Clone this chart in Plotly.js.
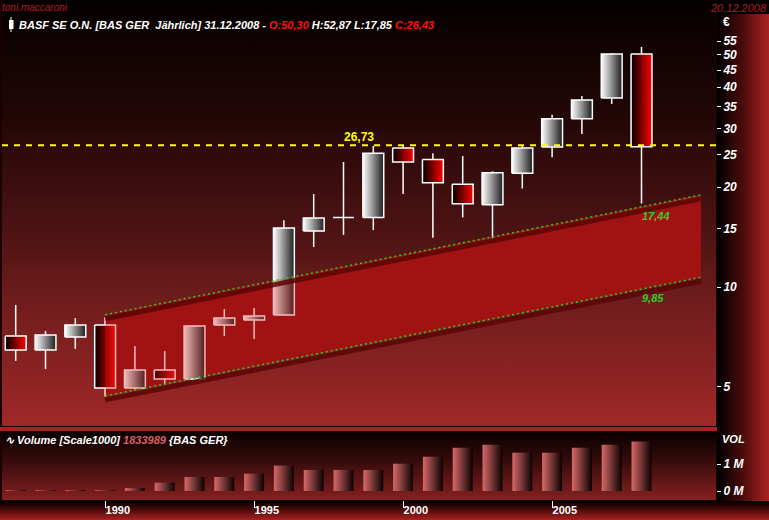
<!DOCTYPE html>
<html><head><meta charset="utf-8">
<script src="https://cdn.plot.ly/plotly-3.0.1.min.js"></script>
<style>
body{margin:0;background:#000;}
#wrap{position:relative;width:769px;height:520px;overflow:hidden;background:#a52323;}
.bg{position:absolute;box-sizing:border-box;}
#chart{position:absolute;left:0;top:0;width:769px;height:520px;}
</style></head><body>
<div id="wrap">
<div class="bg" style="left:0;top:0;width:717px;height:427px;border-left:2px solid #1a0000;border-right:1px solid #1a0000;border-bottom:1px solid #1a0000;background:linear-gradient(to bottom,#050000 0%,#0e0202 8%,#230707 28%,#501414 56%,#6e1c1c 70%,#a02828 100%)"></div>
<div class="bg" style="left:717px;top:0;width:52px;height:14px;background:#000"></div>
<div class="bg" style="left:717px;top:14px;width:52px;height:487px;background:linear-gradient(to right,#000 0%,#1e0404 20%,#4a0c0c 50%,#7e1717 75%,#a82222 100%)"></div>
<div class="bg" style="left:0;top:431px;width:717px;height:70px;border:1px solid #1a0000;border-left:2px solid #1a0000;background:linear-gradient(to bottom,#0a0000 0%,#3a0c0c 45%,#862020 100%)"></div>
<div class="bg" style="left:0;top:501px;width:769px;height:19px;background:linear-gradient(to bottom,#000 0%,#3a0606 35%,#a82222 100%)"></div>
<div id="chart"></div>
</div>
<script>
// ---- data ----
const years  = [1987,1988,1989,1990,1991,1992,1993,1994,1995,1996,1997,1998,1999,2000,2001,2002,2003,2004,2005,2006,2007,2008];
const openV  = [7.12,6.46,7.07,7.68,4.96,5.62,5.28,7.68,7.96,8.23,14.74,16.2,16.2,26.2,24.2,20.4,17.7,22.0,26.4,32.1,37.1,50.30];
const highV  = [8.83,7.37,8.06,8.12,6.64,6.41,7.66,8.58,8.64,15.9,19.05,23.8,26.6,26.6,25.3,24.8,22.3,26.6,33.0,37.6,50.6,52.87];
const lowV   = [5.99,5.66,6.51,4.68,4.90,5.10,5.25,7.12,6.97,8.20,13.2,14.35,14.85,19.05,14.07,16.2,14.0,19.8,24.6,28.9,35.6,17.85];
const closeV = [6.46,7.17,7.68,4.96,5.62,5.28,7.63,8.06,8.18,15.05,16.14,16.25,25.3,23.8,20.6,17.8,22.1,26.2,32.1,36.6,50.30,26.43];
const volumeM = [0.03,0.03,0.03,0.03,0.11,0.31,0.52,0.52,0.64,0.94,0.78,0.78,0.78,1.01,1.27,1.60,1.71,1.42,1.42,1.60,1.71,1.834];
const channelX = [1990, 2010];
const channelUpper = [8.25, 18.95];
const channelLower = [4.70, 10.70];
const channelUpperLabel = "17,44";
const channelLowerLabel = "9,85";
const labelYear = 2008;
const upperAtLabel = 17.44;
const lowerAtLabel = 9.85;
const hLine = 26.73;
const hLineLabel = "26,73";
const priceTicks = [5,10,15,20,25,30,35,40,45,50,55];
const volTicks = [0,1];
const volTickText = ["0 M","1 M"];
const yearTicks = [1990,1995,2000,2005];

// ---- layout helpers ----
const W=769,H=520,ML=2,MR=53,MT=32,MB=20;
const PW=W-ML-MR, PH=H-MT-MB;
const px=x=>(x-ML)/PW, py=y=>(H-MB-y)/PH;
const xRange=[1986.54,2010.5];
const bodyHalf=0.35, volHalf=0.335;

const traces=[];
const bandX=[channelX[0],channelX[1],channelX[1],channelX[0],channelX[0]];
const bandY=[channelUpper[0],channelUpper[1],channelLower[1],channelLower[0],channelUpper[0]];
// band base
traces.push({type:'scatter',mode:'none',x:bandX,y:bandY,fill:'toself',fillcolor:'rgb(138,16,16)',hoverinfo:'skip'});
// wicks
const wx=[],wy=[];
years.forEach((yr,i)=>{wx.push(yr,yr,null);wy.push(lowV[i],highV[i],null);});
traces.push({type:'scatter',mode:'lines',x:wx,y:wy,line:{color:'#ffffff',width:1.5},hoverinfo:'skip'});
// bodies
years.forEach((yr,i)=>{
  const up=closeV[i]>=openV[i];
  traces.push({type:'scatter',mode:'lines',
    x:[yr-bodyHalf,yr+bodyHalf,yr+bodyHalf,yr-bodyHalf,yr-bodyHalf],
    y:[openV[i],openV[i],closeV[i],closeV[i],openV[i]],
    fill:'toself',
    fillgradient:{type:'horizontal',start:yr-bodyHalf,stop:yr+bodyHalf,
      colorscale: up?[[0,'#ffffff'],[1,'#1c1c1c']]:[[0,'#000000'],[1,'#ff0000']]},
    line:{color:'#ffffff',width:1.5},hoverinfo:'skip'});
});
// band overlay
traces.push({type:'scatter',mode:'none',x:bandX,y:bandY,fill:'toself',fillcolor:'rgba(215,25,25,0.3)',hoverinfo:'skip'});
// shadows
const sh=Math.pow(10,-4/332);
[channelUpper,channelLower].forEach(arr=>{
  traces.push({type:'scatter',mode:'lines',x:channelX,y:arr.map(v=>v*sh),line:{color:'rgba(90,6,6,0.85)',width:5},hoverinfo:'skip'});
});
[channelUpper,channelLower].forEach(arr=>{
  traces.push({type:'scatter',mode:'lines',x:channelX,y:arr,line:{color:'#24d024',width:1.5,dash:'2px,3px'},hoverinfo:'skip'});
});
// horizontal level
traces.push({type:'scatter',mode:'lines',x:xRange,y:[hLine,hLine],line:{color:'#ffff00',width:2,dash:'6px,6px'},hoverinfo:'skip'});
// volume
years.forEach((yr,i)=>{
  traces.push({type:'scatter',mode:'none',yaxis:'y2',
    x:[yr-volHalf,yr+volHalf,yr+volHalf,yr-volHalf,yr-volHalf],
    y:[0,0,volumeM[i],volumeM[i],0],fill:'toself',
    fillgradient:{type:'horizontal',start:yr-volHalf,stop:yr+volHalf,colorscale:[[0,'rgb(215,105,105)'],[1,'rgb(12,0,0)']]},
    hoverinfo:'skip'});
});

const F='Liberation Sans, Arial, sans-serif';
const wfont={family:F,size:11,color:'#ffffff',weight:'bold',style:'italic'};
const tfont={family:F,size:12,color:'#ffffff',weight:'bold',style:'italic'};
const annotations=[
  {xref:'paper',yref:'paper',x:px(0),y:py(0),xanchor:'left',yanchor:'top',showarrow:false,
   text:'toni.maccaroni',font:{family:F,size:10,color:'#b01e1e',style:'italic'}},
  {xref:'paper',yref:'paper',x:px(769),y:py(0),xanchor:'right',yanchor:'top',showarrow:false,
   text:'20.12.2008',font:{family:F,size:11,color:'#b01e1e',style:'italic'}},
  {xref:'paper',yref:'paper',x:px(17),y:py(25),xanchor:'left',yanchor:'middle',showarrow:false,
   text:'BASF SE O.N. [BAS GER&nbsp; Jährlich] 31.12.2008 - <span style="color:#ff1010">O:50,30</span> H:52,87 L:17,85 <span style="color:#ff1010">C:26,43</span>',font:wfont},
  {xref:'paper',yref:'paper',x:px(721),y:py(22),xanchor:'left',yanchor:'middle',showarrow:false,
   text:'€',font:{family:F,size:12,color:'#ffffff',weight:'bold'}},
  {xref:'paper',yref:'paper',x:px(3),y:py(440),xanchor:'left',yanchor:'middle',showarrow:false,
   text:'∿ Volume [Scale1000] <span style="color:#d86060">1833989</span> {BAS GER}',font:wfont},
  {xref:'paper',yref:'paper',x:px(720),y:py(439),xanchor:'left',yanchor:'middle',showarrow:false,
   text:'VOL',font:wfont},
  {xref:'x',yref:'y',x:1998.52,y:Math.log10(hLine),xanchor:'center',yanchor:'bottom',yshift:-1,showarrow:false,
   text:hLineLabel,font:{family:F,size:12,color:'#ffff00',weight:'bold'}},
  {xref:'x',yref:'y',x:labelYear-0.05,y:Math.log10(upperAtLabel),xanchor:'left',yanchor:'top',yshift:-1,showarrow:false,
   text:channelUpperLabel,font:{family:F,size:11,color:'#2ccc2c',weight:'bold',style:'italic'}},
  {xref:'x',yref:'y',x:labelYear-0.05,y:Math.log10(lowerAtLabel),xanchor:'left',yanchor:'top',yshift:-1,showarrow:false,
   text:channelLowerLabel,font:{family:F,size:11,color:'#2ccc2c',weight:'bold',style:'italic'}}
];
const shapes=[
  {type:'line',xref:'paper',yref:'paper',x0:px(11),x1:px(11),y0:py(17),y1:py(32),line:{color:'#fff',width:1}},
  {type:'rect',xref:'paper',yref:'paper',x0:px(9),x1:px(13.5),y0:py(20),y1:py(29),fillcolor:'#fff',line:{width:0}}
];
const layout={
  width:W,height:H,margin:{l:ML,r:MR,t:MT,b:MB},
  paper_bgcolor:'rgba(0,0,0,0)',plot_bgcolor:'rgba(0,0,0,0)',showlegend:false,
  xaxis:{range:xRange,anchor:'y2',tickvals:yearTicks,ticktext:yearTicks.map(String),ticks:'outside',ticklen:7,tickcolor:'#ffffff',tickwidth:1,
    ticklabelposition:'outside right',tickfont:{family:F,size:11,color:'#ffffff',weight:'bold'},showgrid:false,zeroline:false,showline:false,fixedrange:true},
  yaxis:{type:'log',domain:[py(427),1],range:[0.57831,1.76807],side:'right',anchor:'x',tickvals:priceTicks,ticktext:priceTicks.map(String),
    ticks:'outside',ticklen:4,tickcolor:'#ffffff',tickwidth:1,tickfont:tfont,showgrid:false,zeroline:false,showline:false},
  yaxis2:{domain:[0,py(431)],range:[-0.3333,2.2222],side:'right',anchor:'x',tickvals:volTicks,ticktext:volTickText,
    ticks:'outside',ticklen:4,tickcolor:'#ffffff',tickwidth:1,tickfont:tfont,showgrid:false,zeroline:false,showline:false},
  annotations:annotations,shapes:shapes
};
Plotly.newPlot('chart',traces,layout,{displayModeBar:false,staticPlot:true});
</script>
</body></html>
